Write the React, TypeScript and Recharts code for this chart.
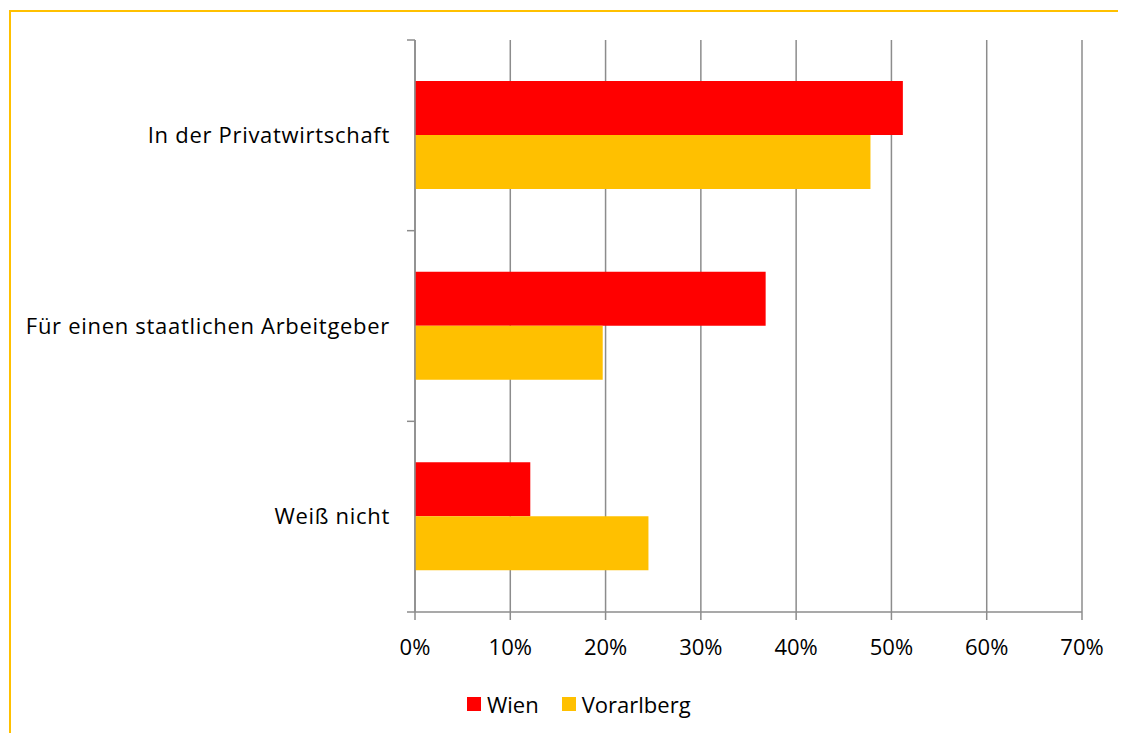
import React from 'react';
import { BarChart, Bar, XAxis, YAxis, CartesianGrid, Legend } from 'recharts';

const categories = ['In der Privatwirtschaft', 'Für einen staatlichen Arbeitgeber', 'Weiß nicht'];
const wien = [51.2, 36.8, 12.1];
const vorarlberg = [47.8, 19.7, 24.5];
const xTicks = [0, 10, 20, 30, 40, 50, 60, 70];

const data = categories.map((c, i) => ({ name: c, Wien: wien[i], Vorarlberg: vorarlberg[i] }));

const FONT = '"Open Sans", "Noto Sans", sans-serif';
const GRAY = '#8c8c8c';

const CategoryTick = (props: any) => {
  const { x, y, payload, index, visibleTicksCount } = props;
  const half = payload && typeof payload.offset === 'number' && payload.offset > 0 ? payload.offset : 95.3;
  const lx1 = x + 17;
  const lx2 = x + 25;
  return (
    <g>
      <line x1={lx1} x2={lx2} y1={y - half} y2={y - half} stroke={GRAY} strokeWidth={1.5} />
      {index === visibleTicksCount - 1 && (
        <line x1={lx1} x2={lx2} y1={y + half} y2={y + half} stroke={GRAY} strokeWidth={1.5} />
      )}
      <text
        x={x}
        y={y}
        dy="0.35em"
        textAnchor="end"
        fill="#000"
        fontSize={22}
        letterSpacing={0.7}
        fontFamily={FONT}
      >
        {payload.value}
      </text>
    </g>
  );
};

const LegendContent = () => (
  <div style={{ display: 'flex', alignItems: 'center', fontFamily: FONT, fontSize: 22, color: '#000' }}>
    <span style={{ display: 'inline-block', width: 14, height: 14, background: '#FF0000', marginRight: 6 }} />
    <span style={{ marginRight: 23 }}>Wien</span>
    <span style={{ display: 'inline-block', width: 14, height: 14, background: '#FFC000', marginRight: 6 }} />
    <span>Vorarlberg</span>
  </div>
);

export default function App() {
  return (
    <div style={{ position: 'relative', width: 1118, height: 725 }}>
      <div
        style={{
          position: 'absolute',
          left: 1,
          top: 2,
          right: 0,
          bottom: 0,
          borderTop: '2px solid #FFC000',
          borderLeft: '2px solid #FFC000',
        }}
      />
      <div style={{ position: 'absolute', left: 0, top: 0 }}>
        <BarChart
          width={1118}
          height={725}
          data={data}
          layout="vertical"
          margin={{ top: 32, right: 44, left: 0, bottom: 91 }}
          barCategoryGap="21.5%"
          barGap={0}
        >
          <CartesianGrid horizontal={false} stroke={GRAY} strokeWidth={1.5} />
          <XAxis
            type="number"
            domain={[0, 70]}
            ticks={xTicks}
            tickFormatter={(v: number) => `${v}%`}
            axisLine={{ stroke: GRAY, strokeWidth: 1.5 }}
            tickLine={{ stroke: GRAY, strokeWidth: 1.5 }}
            tickSize={8}
            tickMargin={19}
            height={30}
            tick={{ fill: '#000', fontSize: 22, fontFamily: FONT }}
            interval={0}
          />
          <YAxis
            type="category"
            dataKey="name"
            width={407}
            axisLine={{ stroke: GRAY, strokeWidth: 1.5 }}
            tickLine={false}
            tickSize={8}
            tickMargin={17}
            tick={<CategoryTick />}
            interval={0}
          />
          <Legend
            layout="horizontal"
            verticalAlign="middle"
            align="center"
            content={<LegendContent />}
            wrapperStyle={{ top: 681, left: 459, width: 300 }}
          />
          <Bar dataKey="Wien" fill="#FF0000" isAnimationActive={false} />
          <Bar dataKey="Vorarlberg" fill="#FFC000" isAnimationActive={false} />
        </BarChart>
      </div>
    </div>
  );
}
